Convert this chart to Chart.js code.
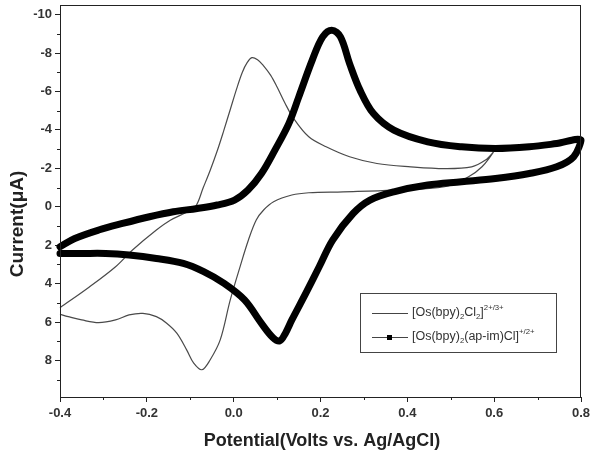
<!DOCTYPE html>
<html>
<head>
<meta charset="utf-8">
<script src="https://cdn.jsdelivr.net/npm/chart.js@4.4.1/dist/chart.umd.min.js"></script>
<style>
  html, body { margin: 0; padding: 0; background: #fff; }
  #cv { display: block; }
</style>
</head>
<body>
<canvas id="cv" width="590" height="454"></canvas>
<script>
// [Os(bpy)2Cl2] 2+/3+ : forward sweep to 0.6 V, then back to -0.4 V
var potentialOsCl = [
	-0.400, -0.334, -0.272, -0.233, -0.178, -0.146, -0.110, -0.088, -0.070, -0.054,
	-0.038, -0.023, -0.008, 0.007, 0.020, 0.031, 0.042, 0.055, 0.068, 0.085, 0.100,
	0.118, 0.138, 0.173, 0.213, 0.267, 0.330, 0.408, 0.486, 0.548, 0.580, 0.598,
	0.572, 0.541, 0.486, 0.369, 0.252, 0.173, 0.134, 0.092, 0.069, 0.052,
	0.034, 0.015, -0.008, -0.031, -0.054, -0.073, -0.092, -0.108, -0.131, -0.155,
	-0.178, -0.209, -0.241, -0.272, -0.311, -0.350, -0.381, -0.400
];
var currentOsCl = [
	5.25, 4.20, 3.12, 2.25, 1.21, 0.70, 0.30, 0.00, -1.00, -1.90,
	-2.90, -3.95, -5.05, -6.15, -7.00, -7.50, -7.76, -7.65, -7.36, -6.85, -6.23,
	-5.40, -4.60, -3.64, -3.12, -2.60, -2.25, -2.08, -1.99, -2.08, -2.43, -2.84,
	-2.08, -1.56, -1.04, -0.87, -0.78, -0.73, -0.61, -0.26, 0.17, 0.69,
	1.73, 3.10, 4.86, 6.93, 7.96, 8.48, 8.14, 7.46, 6.58, 6.05,
	5.72, 5.55, 5.63, 5.89, 6.03, 5.89, 5.72, 5.60
];

// [Os(bpy)2(ap-im)Cl] +/2+ : forward sweep to 0.8 V, then back to -0.4 V
var potentialApIm = [
	-0.400, -0.366, -0.311, -0.256, -0.194, -0.139, -0.084, -0.038, 0.002, 0.033,
	0.064, 0.095, 0.127, 0.150, 0.181, 0.205, 0.226, 0.246, 0.267, 0.291,
	0.322, 0.369, 0.447, 0.525, 0.603, 0.681, 0.744, 0.800,
	0.783, 0.744, 0.681, 0.603, 0.525, 0.447, 0.369, 0.314, 0.275, 0.228,
	0.197, 0.166, 0.134, 0.119, 0.106, 0.090, 0.064, 0.025, -0.022, -0.069,
	-0.116, -0.178, -0.241, -0.295, -0.350, -0.400
];
var currentApIm = [
	2.08, 1.65, 1.21, 0.87, 0.52, 0.26, 0.09, -0.09, -0.35, -0.87,
	-1.73, -2.95, -4.33, -5.72, -7.63, -8.84, -9.19, -8.84, -7.45, -6.07,
	-4.85, -3.99, -3.38, -3.12, -3.03, -3.12, -3.29, -3.47,
	-2.60, -2.08, -1.73, -1.47, -1.30, -1.13, -0.78, -0.35, 0.35, 1.73,
	3.12, 4.51, 5.89, 6.59, 6.98, 6.80, 6.07, 4.85, 3.99, 3.38,
	2.95, 2.69, 2.51, 2.43, 2.43, 2.43
];

// legend names, "_{..}" = subscript, "^{..}" = superscript
var seriesNames = [
	'[Os(bpy)_{2}Cl_{2}]^{2+/3+}',
	'[Os(bpy)_{2}(ap-im)Cl]^{+/2+}'
];

var xTickValues = [-0.4, -0.3, -0.2, -0.1, 0, 0.1, 0.2, 0.3, 0.4, 0.5, 0.6, 0.7, 0.8];
var yTickValues = [-10, -9, -8, -7, -6, -5, -4, -3, -2, -1, 0, 1, 2, 3, 4, 5, 6, 7, 8, 9];

var xAxisTitle = 'Potential(Volts vs. Ag/AgCl)';
var yAxisTitle = 'Current(\u03bcA)';

var tickFont = { family: '"Liberation Sans Narrow", "Liberation Sans", Arial, sans-serif', size: 13, weight: 'bold' };
var titleFont = 'bold 18px "Liberation Sans", Arial, sans-serif';

function toPoints(xs, ys) {
	return xs.map(function(x, i){ return { x: x, y: ys[i] }; });
}
function isMajorX(v) { return Math.abs(Math.round(v * 10)) % 2 === 0; }
function isMajorY(v) { return Math.abs(Math.round(v)) % 2 === 0; }

function plainName(s) { return s.replace(/[_^]\{([^}]*)\}/g, '$1'); }

// draws "a_{b}^{c}" style text
function drawRich(ctx, text, x, y, size) {
	var re = /([_^])\{([^}]*)\}|([^_^]+)/g, m;
	ctx.textBaseline = 'middle';
	ctx.textAlign = 'left';
	while ((m = re.exec(text)) !== null) {
		if (m[3]) {
			ctx.font = size + 'px "Liberation Sans Narrow", "Liberation Sans", Arial, sans-serif';
			ctx.fillText(m[3], x, y);
			x += ctx.measureText(m[3]).width;
		} else {
			var s = size * 0.62;
			ctx.font = s + 'px "Liberation Sans Narrow", "Liberation Sans", Arial, sans-serif';
			var dy = m[1] === '_' ? size * 0.32 : -size * 0.42;
			ctx.fillText(m[2], x, y + dy);
			x += ctx.measureText(m[2]).width;
		}
	}
}

var decorPlugin = {
	id: 'decor',
	afterDraw: function(chart) {
		var ctx = chart.ctx, a = chart.chartArea;
		var xs = chart.scales.x, ys = chart.scales.y;
		ctx.save();
		// frame
		ctx.strokeStyle = '#222';
		ctx.lineWidth = 1;
		ctx.strokeRect(a.left + 0.5, a.top + 0.5, a.right - a.left - 1, a.bottom - a.top);
		// minor ticks
		ctx.beginPath();
		xTickValues.forEach(function(v){
			if (isMajorX(v)) return;
			var px = Math.round(xs.getPixelForValue(v)) + 0.5;
			ctx.moveTo(px, a.bottom); ctx.lineTo(px, a.bottom + 3);
		});
		yTickValues.forEach(function(v){
			if (isMajorY(v)) return;
			var py = Math.round(ys.getPixelForValue(v)) + 0.5;
			ctx.moveTo(a.left, py); ctx.lineTo(a.left - 3, py);
		});
		ctx.stroke();
		// axis titles
		ctx.fillStyle = '#222';
		ctx.font = titleFont;
		ctx.textAlign = 'center';
		ctx.textBaseline = 'middle';
		ctx.fillText(xAxisTitle, 322, 441);
		ctx.save();
		ctx.translate(18, 224);
		ctx.rotate(-Math.PI / 2);
		ctx.font = 'bold 19px "Liberation Sans", Arial, sans-serif';
		ctx.fillText(yAxisTitle, 0, 0);
		ctx.restore();
		// legend box
		var bx = 360, by = 293, bw = 196, bh = 59;
		ctx.strokeStyle = '#444';
		ctx.strokeRect(bx + 0.5, by + 0.5, bw, bh);
		chart.data.datasets.forEach(function(ds, i){
			var ly = by + 20 + i * 24;
			ctx.strokeStyle = '#444';
			ctx.lineWidth = 1;
			ctx.beginPath();
			ctx.moveTo(bx + 12, ly + 0.5); ctx.lineTo(bx + 48, ly + 0.5);
			ctx.stroke();
			if (i === 1) {
				ctx.fillStyle = '#000';
				ctx.fillRect(bx + 27, ly - 2, 5, 5);
			}
			ctx.fillStyle = '#333';
			drawRich(ctx, seriesNames[i], bx + 52, ly, 12.5);
		});
		ctx.restore();
	}
};

window.addEventListener('load', function(){
	var chartCtx = document.getElementById('cv').getContext('2d');
	new Chart(chartCtx, {
		type: 'scatter',
		data: {
			datasets: [
				{
					label: plainName(seriesNames[0]),
					data: toPoints(potentialOsCl, currentOsCl),
					showLine: true,
					borderColor: '#4a4a4a',
					borderWidth: 1.2,
					pointRadius: 0,
					tension: 0.35,
					order: 1,
					clip: 2
				},
				{
					label: plainName(seriesNames[1]),
					data: toPoints(potentialApIm, currentApIm),
					showLine: true,
					borderColor: '#000',
					borderWidth: 7,
					borderCapStyle: 'round',
					borderJoinStyle: 'round',
					pointRadius: 0,
					tension: 0.35,
					order: 0,
					clip: 4
				}
			]
		},
		options: {
			responsive: false,
			animation: false,
			devicePixelRatio: 1,
			layout: { padding: { left: 0, right: 9, top: 5, bottom: 0 } },
			plugins: {
				legend: { display: false },
				tooltip: { enabled: false }
			},
			scales: {
				x: {
					type: 'linear',
					min: -0.4,
					max: 0.8,
					afterBuildTicks: function(s){ s.ticks = xTickValues.map(function(v){ return { value: v }; }); },
					afterFit: function(s){ s.height = 57; s.paddingLeft = 0; s.paddingRight = 0; },
					border: { display: true, color: '#222', width: 1 },
					grid: {
						drawOnChartArea: false,
						tickLength: 5,
						tickColor: function(c){ return c.tick && isMajorX(c.tick.value) ? '#222' : 'rgba(0,0,0,0)'; }
					},
					ticks: {
						color: '#333',
						font: tickFont,
						padding: 4,
						maxRotation: 0,
						autoSkip: false,
						callback: function(v){ return isMajorX(v) ? v.toFixed(1) : ''; }
					}
				},
				y: {
					type: 'linear',
					reverse: true,
					min: -10.5,
					max: 9.9,
					afterBuildTicks: function(s){ s.ticks = yTickValues.map(function(v){ return { value: v }; }); },
					afterFit: function(s){ s.width = 60; s.paddingTop = 0; s.paddingBottom = 0; },
					border: { display: true, color: '#222', width: 1 },
					grid: {
						drawOnChartArea: false,
						tickLength: 5,
						tickColor: function(c){ return c.tick && isMajorY(c.tick.value) ? '#222' : 'rgba(0,0,0,0)'; }
					},
					ticks: {
						color: '#333',
						font: tickFont,
						padding: 3,
						autoSkip: false,
						callback: function(v){ return isMajorY(v) ? String(v) : ''; }
					}
				}
			}
		},
		plugins: [decorPlugin]
	});
});
</script>
</body>
</html>
